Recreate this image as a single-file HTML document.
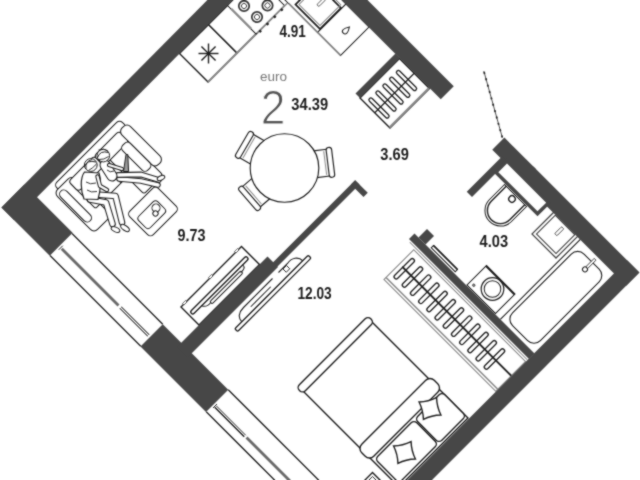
<!DOCTYPE html>
<html><head><meta charset="utf-8"><title>Plan</title>
<style>html,body{margin:0;padding:0;background:#fff;overflow:hidden}svg{display:block;will-change:transform}</style>
</head><body>
<svg width="640" height="480" viewBox="0 0 640 480">
<defs><filter id="soft" color-interpolation-filters="sRGB" x="0" y="0" width="640" height="480" filterUnits="userSpaceOnUse"><feConvolveMatrix order="3" kernelMatrix="1 2 1 2 11 2 1 2 1" divisor="23" edgeMode="duplicate" preserveAlpha="true"/></filter></defs>
<rect width="640" height="480" fill="#fff"/>
<g filter="url(#soft)">
<rect width="640" height="480" fill="#fff"/>
<g transform="rotate(-45)">
<line x1="-145.31" y1="216.02" x2="-145.31" y2="344.36" stroke="#1e1e1e" stroke-width="1.3"/>
<line x1="-114.2" y1="216.02" x2="-114.2" y2="344.36" stroke="#1e1e1e" stroke-width="1.3"/>
<line x1="-132.23" y1="219.56" x2="-132.23" y2="299.81" stroke="#6a6a6a" stroke-width="2.8"/>
<line x1="-133.29" y1="302.64" x2="-133.29" y2="342.24" stroke="#1e1e1e" stroke-width="1.0"/>
<line x1="-131.17" y1="302.64" x2="-131.17" y2="342.24" stroke="#1e1e1e" stroke-width="1.0"/>
<line x1="-135.06" y1="218.14" x2="-129.4" y2="218.14" stroke="#1e1e1e" stroke-width="0.9"/>
<line x1="-145.31" y1="436.99" x2="-145.31" y2="707.11" stroke="#1e1e1e" stroke-width="1.3"/>
<line x1="-114.2" y1="436.99" x2="-114.2" y2="707.11" stroke="#1e1e1e" stroke-width="1.3"/>
<line x1="-136.12" y1="439.82" x2="-136.12" y2="481.54" stroke="#1e1e1e" stroke-width="1.4"/>
<line x1="-134" y1="439.82" x2="-134" y2="481.54" stroke="#1e1e1e" stroke-width="0.9"/>
<line x1="-135.06" y1="483.66" x2="-135.06" y2="707.11" stroke="#6a6a6a" stroke-width="2.8"/>
<line x1="-137.89" y1="439.11" x2="-132.23" y2="439.11" stroke="#1e1e1e" stroke-width="0.9"/>
<rect x="-92.63" y="169" width="92.63" height="10.61" fill="#fff" stroke="#1e1e1e" stroke-width="1.05" rx="4"/>
<rect x="-98.29" y="174.66" width="24.75" height="56.57" fill="#fff" stroke="#1e1e1e" stroke-width="1.05" rx="5"/>
<rect x="-96.52" y="178.19" width="8.49" height="41.72" fill="#fff" stroke="#1e1e1e" stroke-width="1.05" rx="4.5"/>
<rect x="-79.9" y="178.19" width="71.42" height="36.77" fill="#fff" stroke="#1e1e1e" stroke-width="1.05" rx="2"/>
<rect x="-35.36" y="189.5" width="26.87" height="49.5" fill="#fff" stroke="#1e1e1e" stroke-width="1.05" rx="3"/>
<rect x="-79.9" y="176.78" width="36.06" height="14.14" fill="#fff" stroke="#1e1e1e" stroke-width="1.05" rx="3.5"/>
<rect x="-43.84" y="176.78" width="35.36" height="14.14" fill="#fff" stroke="#1e1e1e" stroke-width="1.05" rx="3.5"/>
<rect x="-9.19" y="176.78" width="12.02" height="51.62" fill="#fff" stroke="#1e1e1e" stroke-width="1.05" rx="5"/>
<rect x="-19.8" y="189.5" width="10.61" height="35.36" fill="#fff" stroke="#1e1e1e" stroke-width="1.05" rx="4"/>
<line x1="-43.84" y1="190.92" x2="-43.84" y2="214.96" stroke="#1e1e1e" stroke-width="1.0"/>
<rect x="-61.52" y="241.12" width="40.31" height="33.23" fill="#fff" stroke="#1e1e1e" stroke-width="1.05" rx="4"/>
<rect x="-57.98" y="251.02" width="26.87" height="16.26" fill="#fff" stroke="#1e1e1e" stroke-width="1.0" rx="3.5"/>
<circle cx="-36.77" cy="257.39" r="4" fill="#fff" stroke="#1e1e1e" stroke-width="1.0"/>
<circle cx="-41.01" cy="260.92" r="2.6" fill="#fff" stroke="#1e1e1e" stroke-width="1.0"/>
<rect x="89.1" y="164.76" width="41.01" height="40.31" fill="#fff" stroke="#1e1e1e" stroke-width="1.4"/>
<rect x="130.11" y="164.76" width="28.28" height="40.31" fill="#fff" stroke="#1e1e1e" stroke-width="1.4"/>
<line x1="89.1" y1="205.06" x2="158.39" y2="205.06" stroke="#8a8a8a" stroke-width="2"/>
<line x1="99.6" y1="185.26" x2="119.6" y2="185.26" stroke="#1e1e1e" stroke-width="1.4" transform="rotate(45 109.6 185.26)"/>
<line x1="99.6" y1="185.26" x2="119.6" y2="185.26" stroke="#1e1e1e" stroke-width="1.4" transform="rotate(90 109.6 185.26)"/>
<line x1="99.6" y1="185.26" x2="119.6" y2="185.26" stroke="#1e1e1e" stroke-width="1.4" transform="rotate(135 109.6 185.26)"/>
<line x1="99.6" y1="185.26" x2="119.6" y2="185.26" stroke="#1e1e1e" stroke-width="1.4" transform="rotate(180 109.6 185.26)"/>
<rect x="156.98" y="164.76" width="40.31" height="40.31" fill="#fff" stroke="#1e1e1e" stroke-width="1.0"/>
<line x1="157.33" y1="169.71" x2="157.33" y2="197.99" stroke="#8a8a8a" stroke-width="2.2"/>
<line x1="158.39" y1="205.41" x2="200.82" y2="205.41" stroke="#8a8a8a" stroke-width="1.6"/>
<circle cx="168.29" cy="176.78" r="5.2" fill="#fff" stroke="#333" stroke-width="1.7"/>
<circle cx="168.29" cy="176.78" r="2.6" fill="none" stroke="#1e1e1e" stroke-width="0.8"/>
<circle cx="185.26" cy="176.78" r="5.2" fill="#fff" stroke="#333" stroke-width="1.7"/>
<circle cx="185.26" cy="176.78" r="2.6" fill="none" stroke="#1e1e1e" stroke-width="0.8"/>
<circle cx="169.71" cy="193.75" r="5.2" fill="#fff" stroke="#333" stroke-width="1.7"/>
<circle cx="169.71" cy="193.75" r="2.6" fill="none" stroke="#1e1e1e" stroke-width="0.8"/>
<circle cx="185.26" cy="193.04" r="5.2" fill="#fff" stroke="#333" stroke-width="1.7"/>
<circle cx="185.26" cy="193.04" r="2.6" fill="none" stroke="#1e1e1e" stroke-width="0.8"/>
<circle cx="161.93" cy="206.12" r="1.0" fill="#1e1e1e" stroke="#1e1e1e" stroke-width="0.8"/>
<circle cx="172.18" cy="206.12" r="1.0" fill="#1e1e1e" stroke="#1e1e1e" stroke-width="0.8"/>
<circle cx="182.43" cy="206.12" r="1.0" fill="#1e1e1e" stroke="#1e1e1e" stroke-width="0.8"/>
<circle cx="192.33" cy="206.12" r="1.0" fill="#1e1e1e" stroke="#1e1e1e" stroke-width="0.8"/>
<rect x="201.53" y="164.76" width="40.31" height="82.73" fill="#fff" stroke="#1e1e1e" stroke-width="1.0"/>
<rect x="201.53" y="247.49" width="40.31" height="32.53" fill="#fff" stroke="#1e1e1e" stroke-width="1.0"/>
<line x1="201.88" y1="206.48" x2="201.88" y2="280.01" stroke="#8a8a8a" stroke-width="1.3"/>
<rect x="205.77" y="212.13" width="29.7" height="34.65" fill="#fff" stroke="#1e1e1e" stroke-width="1.7"/>
<rect x="208.24" y="214.61" width="29.34" height="29.7" fill="none" stroke="#8a8a8a" stroke-width="1.0"/>
<rect x="220.62" y="227.33" width="9.9" height="2.83" fill="#fff" stroke="#555" stroke-width="0.9" rx="1.4"/>
<rect x="185.26" y="323.85" width="55.86" height="42.43" fill="#fff" stroke="#1e1e1e" stroke-width="1.4"/>
<line x1="185.26" y1="365.57" x2="241.12" y2="365.57" stroke="#8a8a8a" stroke-width="2.2"/>
<line x1="185.26" y1="344.71" x2="241.12" y2="344.71" stroke="#222" stroke-width="1.3"/>
<rect x="189.72" y="330.93" width="3.82" height="26.87" fill="none" stroke="#222" stroke-width="1.3" rx="1.9"/>
<rect x="199.62" y="330.93" width="3.82" height="26.87" fill="none" stroke="#222" stroke-width="1.3" rx="1.9"/>
<rect x="209.52" y="330.93" width="3.82" height="26.87" fill="none" stroke="#222" stroke-width="1.3" rx="1.9"/>
<rect x="219.06" y="330.93" width="3.82" height="26.87" fill="none" stroke="#222" stroke-width="1.3" rx="1.9"/>
<rect x="228.61" y="330.93" width="3.82" height="26.87" fill="none" stroke="#222" stroke-width="1.3" rx="1.9"/>
<rect x="73.89" y="469.17" width="42.07" height="158.04" fill="#fff" stroke="#8a8a8a" stroke-width="1.1"/>
<line x1="76.72" y1="469.17" x2="76.72" y2="627.2" stroke="#8a8a8a" stroke-width="1.6"/>
<line x1="118.44" y1="461.03" x2="118.44" y2="627.2" stroke="#8a8a8a" stroke-width="1.0"/>
<line x1="95.81" y1="473.05" x2="95.81" y2="627.2" stroke="#222" stroke-width="1.8"/>
<rect x="82.38" y="473.76" width="26.87" height="4.24" fill="none" stroke="#222" stroke-width="1.35" rx="2.1"/>
<rect x="82.38" y="485.36" width="26.87" height="4.24" fill="none" stroke="#222" stroke-width="1.35" rx="2.1"/>
<rect x="82.38" y="496.95" width="26.87" height="4.24" fill="none" stroke="#222" stroke-width="1.35" rx="2.1"/>
<rect x="82.38" y="508.55" width="26.87" height="4.24" fill="none" stroke="#222" stroke-width="1.35" rx="2.1"/>
<rect x="82.38" y="520.15" width="26.87" height="4.24" fill="none" stroke="#222" stroke-width="1.35" rx="2.1"/>
<rect x="82.38" y="531.74" width="26.87" height="4.24" fill="none" stroke="#222" stroke-width="1.35" rx="2.1"/>
<rect x="82.38" y="543.34" width="26.87" height="4.24" fill="none" stroke="#222" stroke-width="1.35" rx="2.1"/>
<rect x="82.38" y="554.94" width="26.87" height="4.24" fill="none" stroke="#222" stroke-width="1.35" rx="2.1"/>
<rect x="82.38" y="566.53" width="26.87" height="4.24" fill="none" stroke="#222" stroke-width="1.35" rx="2.1"/>
<rect x="82.38" y="578.13" width="26.87" height="4.24" fill="none" stroke="#222" stroke-width="1.35" rx="2.1"/>
<rect x="82.38" y="589.73" width="26.87" height="4.24" fill="none" stroke="#222" stroke-width="1.35" rx="2.1"/>
<rect x="82.38" y="601.32" width="26.87" height="4.24" fill="none" stroke="#222" stroke-width="1.35" rx="2.1"/>
<path d="M226.27 487.2 H204.71 A15.56 15.56 0 0 0 204.71 518.31 H226.27 Z" fill="#fff" stroke="#1e1e1e" stroke-width="1"/>
<path d="M226.27 489.67 H205.06 A13.08 13.08 0 0 0 205.06 515.83 H226.27" fill="none" stroke="#1e1e1e" stroke-width="1.4"/>
<circle cx="221.32" cy="502.75" r="3.2" fill="#fff" stroke="#1e1e1e" stroke-width="1.4"/>
<rect x="210.72" y="541.64" width="32.53" height="33.94" fill="#fff" stroke="#444" stroke-width="1.25"/>
<rect x="213.9" y="544.83" width="26.52" height="27.58" fill="none" stroke="#444" stroke-width="1.1"/>
<rect x="226.98" y="557.41" width="9.9" height="3.11" fill="#fff" stroke="#444" stroke-width="0.9" rx="1"/>
<line x1="127.99" y1="579.62" x2="241.12" y2="579.62" stroke="#1e1e1e" stroke-width="1.1"/>
<rect x="132.23" y="583.58" width="101.12" height="39.39" fill="#fff" stroke="#1e1e1e" stroke-width="1.1" rx="9"/>
<rect x="224.86" y="602.88" width="12.73" height="2.55" fill="#fff" stroke="#1e1e1e" stroke-width="0.8" rx="1"/>
<circle cx="223.16" cy="604.15" r="2.5" fill="#fff" stroke="#1e1e1e" stroke-width="1.0"/>
<rect x="128.69" y="531.74" width="27.58" height="40.31" fill="#fff" stroke="#1e1e1e" stroke-width="1"/>
<line x1="155.56" y1="531.74" x2="155.56" y2="572.05" stroke="#1e1e1e" stroke-width="1.8"/>
<circle cx="143.9" cy="552.6" r="11.3" fill="none" stroke="#1e1e1e" stroke-width="1.2"/>
<circle cx="143.9" cy="552.6" r="8.3" fill="none" stroke="#1e1e1e" stroke-width="1.0"/>
<circle cx="133.29" cy="536.69" r="1.3" fill="#888" stroke="#1e1e1e" stroke-width="0.6"/>
<rect x="129.75" y="480.13" width="3.18" height="33.94" fill="#fff" stroke="#1e1e1e" stroke-width="1.0"/>
<line x1="132.94" y1="480.13" x2="132.94" y2="514.07" stroke="#1e1e1e" stroke-width="1.7"/>
<rect x="-89.1" y="345.07" width="85.56" height="25.46" fill="#fff" stroke="#1e1e1e" stroke-width="1.4"/>
<rect x="-85.56" y="343.65" width="4.24" height="2.12" fill="#fff" stroke="#1e1e1e" stroke-width="0.6"/>
<rect x="-48.79" y="343.65" width="4.24" height="2.12" fill="#fff" stroke="#1e1e1e" stroke-width="0.6"/>
<rect x="-12.02" y="343.65" width="4.24" height="2.12" fill="#fff" stroke="#1e1e1e" stroke-width="0.6"/>
<rect x="-86.27" y="354.97" width="79.2" height="3.89" fill="#fff" stroke="#1e1e1e" stroke-width="1.4" rx="2"/>
<rect x="-65.05" y="361.69" width="43.84" height="3.18" fill="#fff" stroke="#1e1e1e" stroke-width="1.0" rx="1.6"/>
<path d="M-73.54 358.86 q2 5 9 4 M-15.56 358.86 q0 5 -7 4" fill="none" stroke="#1e1e1e" stroke-width="1"/>
<path d="M-56.57 398.45 C-56.57 393.15 -52.33 389.62 -45.25 389.62 H-4.24 M4.24 389.62 H16.97 C24.04 388.2 29.7 392.44 29.7 398.45" fill="#fff" stroke="#1e1e1e" stroke-width="1.1"/>
<line x1="-39.6" y1="394.21" x2="-11.31" y2="394.21" stroke="#1e1e1e" stroke-width="1.0"/>
<rect x="9.9" y="390.32" width="4.95" height="4.6" fill="#fff" stroke="#1e1e1e" stroke-width="0.9"/>
<rect x="-66.47" y="398.45" width="103.94" height="4.03" fill="#fff" stroke="#1e1e1e" stroke-width="1.3" rx="1.5"/>
<rect x="-62.23" y="487.9" width="97.58" height="138.59" fill="#fff" stroke="#1e1e1e" stroke-width="1.4"/>
<rect x="-64.35" y="483.66" width="101.12" height="8.49" fill="#fff" stroke="#1e1e1e" stroke-width="1.4" rx="4"/>
<rect x="-64.35" y="569.93" width="102.53" height="16.97" fill="#fff" stroke="#1e1e1e" stroke-width="1.4" rx="6"/>
<rect x="-59.4" y="589.73" width="55.15" height="33.94" fill="#fff" stroke="#1e1e1e" stroke-width="1.4" rx="4"/>
<rect x="-2.83" y="589.73" width="38.18" height="33.94" fill="#fff" stroke="#1e1e1e" stroke-width="1.4" rx="4"/>
<rect x="-90.51" y="597.51" width="19.8" height="28.99" fill="#fff" stroke="#1e1e1e" stroke-width="1.4"/>
<rect x="-87.68" y="600.33" width="14.14" height="26.16" fill="none" stroke="#1e1e1e" stroke-width="0.9"/>
<path d="M-145.66 147.71 L260.22 146.23 L260.22 164.19 L-145.66 165.68 Z" fill="#474747" stroke="none" stroke-width="0"/>
<rect x="241.48" y="141.42" width="18.38" height="240.42" fill="#474747"/>
<rect x="242.18" y="453.96" width="17.18" height="44.55" fill="#474747"/>
<rect x="240.77" y="494.97" width="18.6" height="149.91" fill="#474747"/>
<rect x="-183.85" y="627.56" width="443.21" height="17.32" fill="#474747"/>
<rect x="-145.66" y="147.71" width="32.39" height="68.31" fill="#474747"/>
<rect x="-145.66" y="344.36" width="31.47" height="92.63" fill="#474747"/>
<rect x="-120.21" y="370.52" width="127.99" height="14.85" fill="#474747"/>
<rect x="7.07" y="378.51" width="116.67" height="6.15" fill="#474747"/>
<rect x="117.73" y="378.51" width="6.01" height="17.82" fill="#474747"/>
<rect x="185.26" y="317.49" width="56.57" height="6.36" fill="#474747"/>
<rect x="194.45" y="465.63" width="50.2" height="7.42" fill="#474747"/>
<rect x="120.21" y="458.21" width="7.78" height="169.71" fill="#474747"/>
<rect x="127.99" y="463.86" width="12.02" height="9.9" fill="#474747"/>
<rect x="228.89" y="472.35" width="15.77" height="58.9" fill="#fff" stroke="#474747" stroke-width="3.5"/>
</g>
<g transform="rotate(-7 284.5 168)"><rect x="310.5" y="154.5" width="21" height="27" rx="3" fill="#fff" stroke="#1e1e1e" stroke-width="1.15"/><rect x="328.0" y="153" width="5.5" height="30" rx="2.5" fill="#fff" stroke="#1e1e1e" stroke-width="1.15"/><line x1="325.5" y1="156" x2="325.5" y2="180" stroke="#8a8a8a" stroke-width="1"/></g>
<g transform="rotate(139 284.5 168)"><rect x="310.5" y="154.5" width="21" height="27" rx="3" fill="#fff" stroke="#1e1e1e" stroke-width="1.15"/><rect x="328.0" y="153" width="5.5" height="30" rx="2.5" fill="#fff" stroke="#1e1e1e" stroke-width="1.15"/><line x1="325.5" y1="156" x2="325.5" y2="180" stroke="#8a8a8a" stroke-width="1"/></g>
<g transform="rotate(210 284.5 168)"><rect x="310.5" y="154.5" width="21" height="27" rx="3" fill="#fff" stroke="#1e1e1e" stroke-width="1.15"/><rect x="328.0" y="153" width="5.5" height="30" rx="2.5" fill="#fff" stroke="#1e1e1e" stroke-width="1.15"/><line x1="325.5" y1="156" x2="325.5" y2="180" stroke="#8a8a8a" stroke-width="1"/></g>
<circle cx="284.5" cy="168" r="34.3" fill="#fff" stroke="#1e1e1e" stroke-width="1.15"/>
<path transform="translate(346.2 30.2) rotate(45)" d="M0 -4.6 C2 -1.5 2.6 0.6 2.6 1.6 A2.6 2.6 0 1 1 -2.6 1.6 C-2.6 0.6 -2 -1.5 0 -4.6Z" fill="#fff" stroke="#1e1e1e" stroke-width="1"/>
<path transform="rotate(-14 430 408.5)" d="M421 399.5 Q430 401.48 439 399.5 Q437.02 408.5 439 417.5 Q430 415.52 421 417.5 Q422.98 408.5 421 399.5Z" fill="#fff" stroke="#1e1e1e" stroke-width="1.4"/>
<path transform="rotate(-14 404.5 452.5)" d="M395.5 443.5 Q404.5 445.48 413.5 443.5 Q411.52 452.5 413.5 461.5 Q404.5 459.52 395.5 461.5 Q397.48 452.5 395.5 443.5Z" fill="#fff" stroke="#1e1e1e" stroke-width="1.4"/>
<path d="M119 179 L141 181 L158 185" fill="none" stroke="#1e1e1e" stroke-width="5.5" stroke-linecap="round" stroke-linejoin="round"/>
<path d="M119 179 L141 181 L158 185" fill="none" stroke="#fff" stroke-width="3.4" stroke-linecap="round" stroke-linejoin="round"/>
<path d="M118 175 L141 174.5 L159 180" fill="none" stroke="#1e1e1e" stroke-width="5.8" stroke-linecap="round" stroke-linejoin="round"/>
<path d="M118 175 L141 174.5 L159 180" fill="none" stroke="#fff" stroke-width="3.6999999999999997" stroke-linecap="round" stroke-linejoin="round"/>
<ellipse cx="161" cy="178" rx="4" ry="2.2" transform="rotate(-25 161 178)" fill="#fff" stroke="#1e1e1e" stroke-width="1"/>
<path d="M105 165 L112 176" fill="none" stroke="#1e1e1e" stroke-width="11" stroke-linecap="round" stroke-linejoin="round"/>
<path d="M105 165 L112 176" fill="none" stroke="#fff" stroke-width="8.9" stroke-linecap="round" stroke-linejoin="round"/>
<path d="M109 165 L122 169" fill="none" stroke="#1e1e1e" stroke-width="4.2" stroke-linecap="round" stroke-linejoin="round"/>
<path d="M109 165 L122 169" fill="none" stroke="#fff" stroke-width="2.1" stroke-linecap="round" stroke-linejoin="round"/>
<path d="M126 154.5 L127.8 154.5 L128.6 171.5 L123.5 171.5 Z" fill="#999" stroke="#1e1e1e" stroke-width="1"/>
<circle cx="103.3" cy="155.6" r="6.3" fill="#fff" stroke="#1e1e1e" stroke-width="1"/>
<path d="M97.6 157.5 Q100 150 108.5 152.5" fill="none" stroke="#1e1e1e" stroke-width="1"/>
<path d="M96 194.5 L115.5 196 L122 222.5" fill="none" stroke="#1e1e1e" stroke-width="6.6" stroke-linecap="round" stroke-linejoin="round"/>
<path d="M96 194.5 L115.5 196 L122 222.5" fill="none" stroke="#fff" stroke-width="4.5" stroke-linecap="round" stroke-linejoin="round"/>
<path d="M90 199.5 L106 202.5 L112.5 224" fill="none" stroke="#1e1e1e" stroke-width="6.6" stroke-linecap="round" stroke-linejoin="round"/>
<path d="M90 199.5 L106 202.5 L112.5 224" fill="none" stroke="#fff" stroke-width="4.5" stroke-linecap="round" stroke-linejoin="round"/>
<ellipse cx="125" cy="228" rx="5" ry="2.4" transform="rotate(35 125 228)" fill="#fff" stroke="#1e1e1e" stroke-width="1"/>
<ellipse cx="115.5" cy="229.5" rx="4.6" ry="2.3" transform="rotate(25 115.5 229.5)" fill="#fff" stroke="#1e1e1e" stroke-width="1"/>
<path d="M84.5 172 C80 178 80.5 190 84 199 L98 199.5 C100.5 190 101.5 180 99 173 Z" fill="#fff" stroke="#1e1e1e" stroke-width="1.2"/>
<path d="M97.5 176.5 L100 186 L107 190" fill="none" stroke="#1e1e1e" stroke-width="4.4" stroke-linecap="round" stroke-linejoin="round"/>
<path d="M97.5 176.5 L100 186 L107 190" fill="none" stroke="#fff" stroke-width="2.3000000000000003" stroke-linecap="round" stroke-linejoin="round"/>
<circle cx="90.8" cy="165" r="6.4" fill="#fff" stroke="#1e1e1e" stroke-width="1"/>
<path d="M84.6 166.5 Q87 159.5 96 162" fill="none" stroke="#1e1e1e" stroke-width="1"/>
<path d="M86 169 Q85 161 92 159.5 M88.5 170.5 Q93 168 96.5 164 M98.5 150 Q104 148 108 151 M99 159.5 Q104 160 108.5 156.5 M86 182 Q90 185 96 183 M87 190 Q91 193 97 191.5 M107 170 Q110 173 114 171" fill="none" stroke="#1e1e1e" stroke-width="0.9"/>
<line x1="502.3" y1="137.5" x2="483.8" y2="71" stroke="#4a4a4a" stroke-width="1"/>
<line x1="502.3" y1="137.5" x2="483.8" y2="71" stroke="#222" stroke-width="1.7" stroke-dasharray="2 4.6"/>

<g style="font-family:'Liberation Sans',sans-serif;font-weight:bold;font-size:15.6px" fill="#1c1c1c">
<text x="279.4" y="37.2" textLength="26.3" lengthAdjust="spacingAndGlyphs">4.91</text>
<text x="291.3" y="110.3" textLength="36.8" lengthAdjust="spacingAndGlyphs">34.39</text>
<text x="380.3" y="160.4" textLength="28.5" lengthAdjust="spacingAndGlyphs">3.69</text>
<text x="479.6" y="247.4" textLength="28.5" lengthAdjust="spacingAndGlyphs">4.03</text>
<text x="177.4" y="241.2" textLength="28" lengthAdjust="spacingAndGlyphs">9.73</text>
<text x="297.4" y="299" textLength="34.3" lengthAdjust="spacingAndGlyphs">12.03</text>
</g>
<text x="260" y="80.5" textLength="27" lengthAdjust="spacingAndGlyphs" style="font-family:'Liberation Sans',sans-serif;font-size:12.5px" fill="#777">euro</text>
<text x="260.8" y="124.2" textLength="24.7" lengthAdjust="spacingAndGlyphs" style="font-family:'Liberation Sans',sans-serif;font-size:48.5px" fill="#555" stroke="#fff" stroke-width="1.1">2</text>

</g>
</svg>
</body></html>
